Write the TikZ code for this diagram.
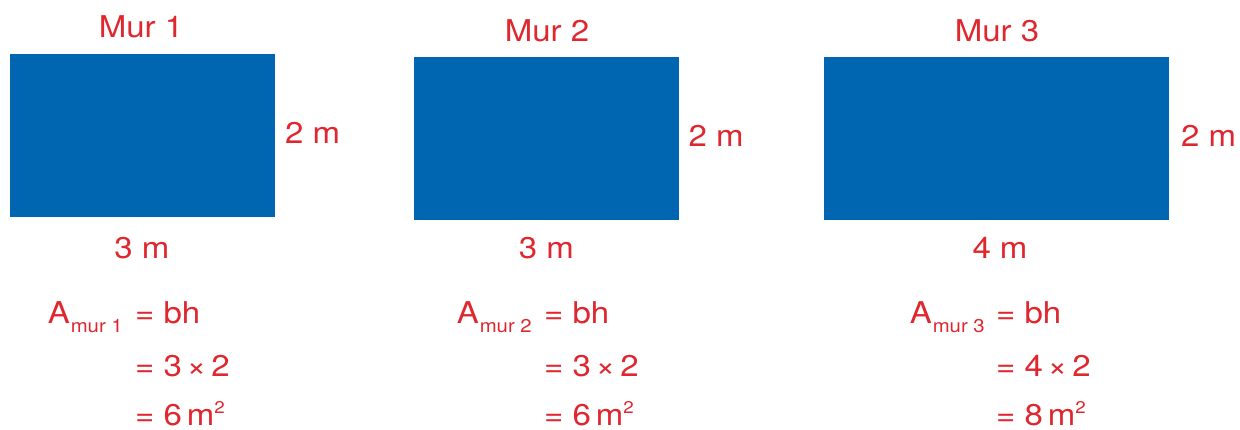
\documentclass[tikz,border=0pt]{standalone}
\usepackage{fontspec}
\setmainfont{TeX Gyre Heros}[FakeStretch=1.1]
\definecolor{wallblue}{RGB}{0,102,178}
\definecolor{labred}{RGB}{224,38,46}
\newcommand{\subsc}[1]{\raisebox{-9pt}{\fontsize{18.5}{18.5}\selectfont #1}}
\newcommand{\supsq}{\raisebox{12pt}{\fontsize{17}{17}\selectfont 2}}
\tikzset{
  wall/.style={fill=wallblue, draw=none},
  lab/.style={text=labred, inner sep=0pt, font=\fontsize{30}{34}\selectfont},
}
\begin{document}
\begin{tikzpicture}[x=1pt,y=-1pt]
\useasboundingbox (0,0) rectangle (1240,429);
% walls
\fill[wall] (10,54) rectangle (275,216.5);
\fill[wall] (414,57) rectangle (679,220);
\fill[wall] (824,57) rectangle (1169,220);
% titles
\node[lab, anchor=base] (t1) at (141,37.5) {Mur 1};
\node[lab, anchor=base] (t2) at (547,41.5) {Mur 2};
\node[lab, anchor=base] (t3) at (997,41.5) {Mur 3};
% heights
\node[lab, anchor=base west] (h1) at (285,143.5) {2 m};
\node[lab, anchor=base west] (h2) at (688.5,146.5) {2 m};
\node[lab, anchor=base west] (h3) at (1181,146.5) {2 m};
% bases
\node[lab, anchor=base] (b1) at (142,258) {3 m};
\node[lab, anchor=base] (b2) at (546.5,258) {3 m};
\node[lab, anchor=base] (b3) at (1000,258) {4 m};
% formulas wall 1
\node[lab, anchor=base west] (e11) at (135,323) {= bh};
\node[lab, anchor=base east] (a1) at (123,323) {A\hspace{1pt}\subsc{mur 1}};
\node[lab, anchor=base west] (e12) at (135,376) {= 3\hspace{5pt}×\hspace{5pt}2};
\node[lab, anchor=base west] (e13) at (135,425) {= 6\hspace{5pt}m\supsq};
% formulas wall 2
\node[lab, anchor=base west] (e21) at (544,323) {= bh};
\node[lab, anchor=base east] (a2) at (532,323) {A\hspace{1pt}\subsc{mur 2}};
\node[lab, anchor=base west] (e22) at (544,376) {= 3\hspace{5pt}×\hspace{5pt}2};
\node[lab, anchor=base west] (e23) at (544,425) {= 6\hspace{5pt}m\supsq};
% formulas wall 3
\node[lab, anchor=base west] (e31) at (996,323) {= bh};
\node[lab, anchor=base east] (a3) at (985,323) {A\hspace{1pt}\subsc{mur 3}};
\node[lab, anchor=base west] (e32) at (996,376) {= 4\hspace{5pt}×\hspace{5pt}2};
\node[lab, anchor=base west] (e33) at (996,425) {= 8\hspace{5pt}m\supsq};
\end{tikzpicture}
\end{document}
